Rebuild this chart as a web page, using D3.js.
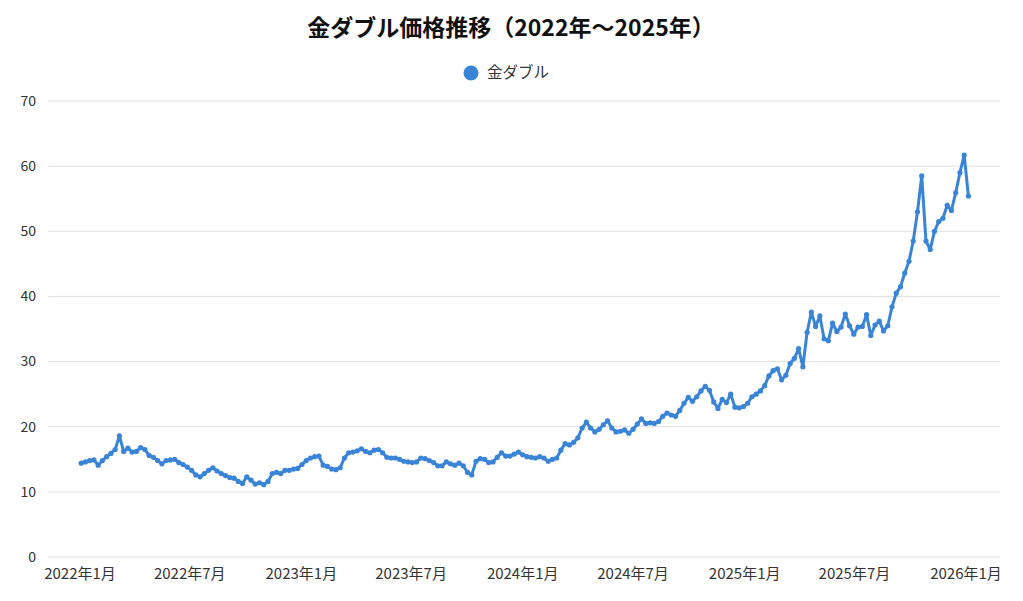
<!DOCTYPE html>
<html>
<head>
<meta charset="utf-8">
<script src="https://cdn.jsdelivr.net/npm/d3@7"></script>
<style>
  body { margin: 0; background: #fff; }
  svg { font-family: "Noto Sans CJK JP", "Noto Sans", sans-serif; }
</style>
</head>
<body>
<div id="chart"></div>
<script>

// weekly closing prices, first week starting 2022-01-03
const startDate = "2022-01-03";
const prices = [
    14.4, 14.6, 14.8, 14.9, 14.1, 14.8, 15.4, 15.9, 16.5, 18.6,
    16.2, 16.7, 16.1, 16.2, 16.8, 16.5, 15.6, 15.3, 14.8, 14.3,
    14.8, 14.9, 15.0, 14.5, 14.2, 13.8, 13.3, 12.6, 12.3, 12.8,
    13.3, 13.7, 13.2, 12.8, 12.5, 12.2, 12.1, 11.6, 11.3, 12.3,
    11.8, 11.2, 11.4, 11.1, 11.6, 12.8, 13.0, 12.8, 13.3, 13.3,
    13.5, 13.6, 14.2, 14.8, 15.2, 15.4, 15.5, 14.1, 13.9, 13.5,
    13.4, 13.7, 15.2, 16.0, 16.1, 16.3, 16.6, 16.2, 16.0, 16.4,
    16.5, 16.0, 15.3, 15.2, 15.2, 15.0, 14.7, 14.6, 14.5, 14.6,
    15.2, 15.1, 14.8, 14.5, 14.0, 14.0, 14.6, 14.3, 14.1, 14.4,
    14.0, 13.0, 12.6, 14.7, 15.1, 15.0, 14.5, 14.6, 15.3, 16.0,
    15.5, 15.5, 15.8, 16.1, 15.7, 15.4, 15.3, 15.2, 15.4, 15.2,
    14.7, 15.0, 15.2, 16.4, 17.4, 17.2, 17.6, 18.3, 19.8, 20.7,
    19.8, 19.2, 19.6, 20.3, 20.9, 19.8, 19.2, 19.3, 19.5, 19.0,
    19.6, 20.4, 21.2, 20.5, 20.6, 20.5, 20.8, 21.6, 22.1, 21.8,
    21.6, 22.5, 23.6, 24.5, 23.9, 24.6, 25.5, 26.2, 25.6, 23.8,
    22.8, 24.2, 23.7, 25.0, 23.0, 22.9, 23.1, 23.6, 24.6, 25.0,
    25.5, 26.3, 27.8, 28.6, 28.9, 27.2, 27.9, 29.7, 30.5, 32.0,
    29.2, 34.5, 37.6, 35.4, 37.0, 33.5, 33.2, 35.9, 34.6, 35.3,
    37.3, 35.5, 34.2, 35.3, 35.4, 37.2, 34.0, 35.6, 36.2, 34.7,
    35.5, 38.4, 40.5, 41.5, 43.6, 45.4, 48.5, 53.0, 58.5, 48.5,
    47.2, 50.0, 51.5, 52.0, 54.0, 53.2, 55.9, 59.0, 61.7, 55.4
];
const yTicks = [0, 10, 20, 30, 40, 50, 60, 70];
const xTickDates = ["2022-01-01", "2022-07-01", "2023-01-01", "2023-07-01", "2024-01-01",
    "2024-07-01", "2025-01-01", "2025-07-01", "2026-01-01"];

const seriesName = "金ダブル";
const title = "金ダブル価格推移（2022年〜2025年）";
const blue = "#3a84d8";

const width = 1023, height = 601;
const parse = d3.timeParse("%Y-%m-%d");
const t0 = parse(startDate);
const data = prices.map((v, i) => ({date: d3.timeDay.offset(t0, i * 7), value: v}));

const svg = d3.select("#chart").append("svg")
    .attr("width", width)
    .attr("height", height);

const x = d3.scaleTime()
    .domain([parse("2022-01-01"), parse("2026-01-01")])
    .range([80, 966]);
const y = d3.scaleLinear().domain([0, 70]).range([557, 101]);

// grid lines
svg.append("g")
    .selectAll("line")
    .data(yTicks)
    .join("line")
    .attr("x1", 48)
    .attr("x2", 1000)
    .attr("y1", d => y(d))
    .attr("y2", d => y(d))
    .attr("stroke", "#e0e0e0")
    .attr("stroke-width", 1);

svg.append("g")
    .selectAll("text")
    .data(yTicks)
    .join("text")
    .attr("x", 36)
    .attr("y", d => y(d))
    .attr("dy", "0.35em")
    .attr("text-anchor", "end")
    .attr("font-size", 14)
    .attr("fill", "#333")
    .text(d => d);

const fmt = d => d.getFullYear() + "年" + (d.getMonth() + 1) + "月";
svg.append("g")
    .selectAll("text")
    .data(xTickDates.map(parse))
    .join("text")
    .attr("x", d => x(d))
    .attr("y", 579)
    .attr("text-anchor", "middle")
    .attr("font-size", 15)
    .attr("fill", "#333")
    .text(fmt);

// line + dots
const line = d3.line()
    .x(d => x(d.date))
    .y(d => y(d.value));

svg.append("path")
    .datum(data)
    .attr("d", line)
    .attr("fill", "none")
    .attr("stroke", blue)
    .attr("stroke-width", 3)
    .attr("stroke-linejoin", "round");

svg.append("g")
    .selectAll("circle")
    .data(data)
    .join("circle")
    .attr("cx", d => x(d.date))
    .attr("cy", d => y(d.value))
    .attr("r", 2.6)
    .attr("fill", blue);

// title and legend
svg.append("text")
    .attr("x", 511)
    .attr("y", 36)
    .attr("text-anchor", "middle")
    .attr("font-size", 23)
    .attr("font-weight", "bold")
    .attr("fill", "#111")
    .text(title);

svg.append("circle")
    .attr("cx", 471)
    .attr("cy", 73)
    .attr("r", 7.5)
    .attr("fill", blue);

svg.append("text")
    .attr("x", 487)
    .attr("y", 73)
    .attr("dy", "0.35em")
    .attr("font-size", 15.5)
    .attr("fill", "#333")
    .text(seriesName);

</script>
</body>
</html>
